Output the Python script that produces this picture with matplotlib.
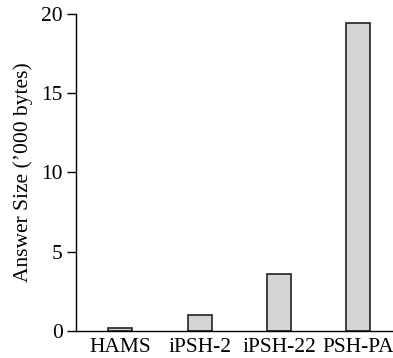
import matplotlib
matplotlib.use("Agg")
import matplotlib.pyplot as plt

# data
systems = ["HAMS", "iPSH-2", "iPSH-22", "PSH-PA"]
answer_kb = [0.17, 1.0, 3.6, 19.4]
y_ticks = [0, 5, 10, 15, 20]

plt.rcParams["font.family"] = ["Liberation Serif", "DejaVu Serif"]

fig = plt.figure(figsize=(3.93, 3.58), dpi=100)
ax = fig.add_axes([0.1934, 0.0763, 0.8066, 0.8846])

x = range(len(systems))
ax.bar(x, answer_kb, width=0.3, color="#d4d4d4", edgecolor="#222222", linewidth=1.2)

ax.set_xlim(-0.56, 3.44)
ax.set_ylim(0, 20)
ax.set_xticks(list(x))
ax.set_xticklabels(systems)
ax.set_yticks(y_ticks)
ax.tick_params(axis="x", length=0, pad=5, labelsize=15.5)
ax.tick_params(axis="y", length=6.5, width=1, pad=3, labelsize=15.5)
ax.set_ylabel("Answer Size (\u2019000 bytes)", fontsize=15.5, labelpad=6)

ax.spines["top"].set_visible(False)
ax.spines["right"].set_visible(False)
for s in ("left", "bottom"):
    ax.spines[s].set_linewidth(1)

fig.savefig("out.png", dpi=100)
